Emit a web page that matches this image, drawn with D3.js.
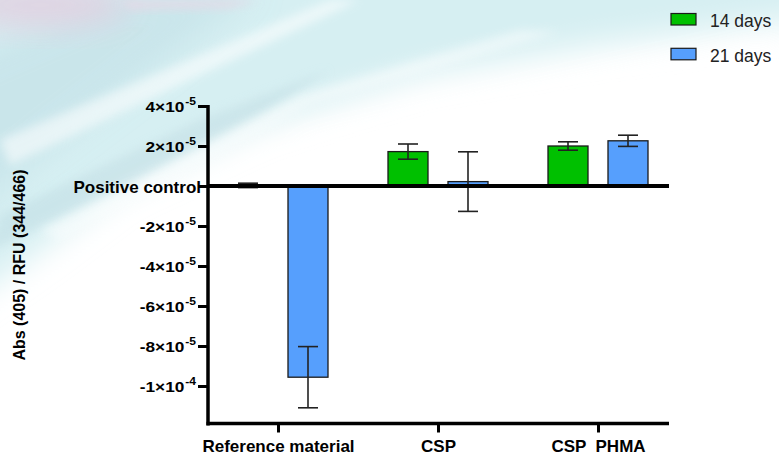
<!DOCTYPE html>
<html>
<head>
<meta charset="utf-8">
<script src="https://cdn.jsdelivr.net/npm/d3@7"></script>
<style>
  html, body { margin: 0; padding: 0; background: #fff; }
  svg { display: block; font-family: "Liberation Sans", Arial, sans-serif; }
</style>
</head>
<body>
<svg id="chart" width="779" height="455"></svg>
<script>
// ---- data ----
const categories = ["Reference material", "CSP", "CSP  PHMA"];
const seriesNames = ["14 days", "21 days"];
const seriesColors = ["#00c000", "#569ffd"];
const values14 = [0.03e-5, 1.72e-5, 2.0e-5];
const errors14 = [0.11e-5, 0.38e-5, 0.21e-5];
const values21 = [-9.56e-5, 0.22e-5, 2.26e-5];
const errors21 = [1.53e-5, 1.49e-5, 0.28e-5];
const yTickValues = [4e-5, 2e-5, 0, -2e-5, -4e-5, -6e-5, -8e-5, -1e-4];
const yTickMain = ["4×10", "2×10", "Positive control", "-2×10", "-4×10", "-6×10", "-8×10", "-1×10"];
const yTickSup = ["-5", "-5", "", "-5", "-5", "-5", "-5", "-4"];
const yTitle = "Abs (405) / RFU (344/466)";

const svg = d3.select("#chart");
const W = 779, H = 455;

// ---- background wash ----
const defs = svg.append("defs");
defs.append("filter").attr("id", "blurBig").attr("x", "-50%").attr("y", "-50%").attr("width", "200%").attr("height", "200%")
  .append("feGaussianBlur").attr("stdDeviation", 16);
defs.append("filter").attr("id", "blurSmall").attr("x", "-50%").attr("y", "-50%").attr("width", "200%").attr("height", "200%")
  .append("feGaussianBlur").attr("stdDeviation", 5);

svg.append("rect").attr("width", W).attr("height", H).attr("fill", "#fff");
const bg = svg.append("g");
bg.append("polygon").attr("filter", "url(#blurBig)").attr("fill", "#d6eff2")
  .attr("points", "-60,-60 840,-60 840,15 600,45 420,75 260,125 120,190 40,250 -60,320");
bg.append("polygon").attr("filter", "url(#blurBig)").attr("fill", "#c6e3e9").attr("opacity", 0.8)
  .attr("points", "-40,60 120,-10 260,-10 60,140 -40,220");
bg.append("polygon").attr("filter", "url(#blurSmall)").attr("fill", "#c3dfe5").attr("opacity", 0.6)
  .attr("points", "-10,250 0,215 200,120 330,70 260,115 120,190");
bg.append("polygon").attr("filter", "url(#blurSmall)").attr("fill", "#ffffff").attr("opacity", 0.55)
  .attr("points", "0,140 330,0 360,0 10,165");
bg.append("polygon").attr("filter", "url(#blurSmall)").attr("fill", "#ffffff").attr("opacity", 0.45)
  .attr("points", "40,230 300,95 520,30 560,32 310,105 60,240");
bg.append("ellipse").attr("filter", "url(#blurBig)").attr("fill", "#e2cfe0").attr("opacity", 0.9)
  .attr("cx", 40).attr("cy", 5).attr("rx", 90).attr("ry", 22);
bg.append("polygon").attr("filter", "url(#blurSmall)").attr("fill", "#e6d8e6").attr("opacity", 0.8)
  .attr("points", "120,0 260,0 230,8 130,10");
bg.append("polygon").attr("filter", "url(#blurBig)").attr("fill", "#ffffff").attr("opacity", 0.9)
  .attr("points", "300,150 780,40 780,455 300,455");

// ---- scales ----
const y = d3.scaleLinear().domain([-1.19e-4, 4e-5]).range([424, 106]);
const x = d3.scalePoint().domain(categories).range([278, 598]);
const xs = d3.scaleBand().domain(seriesNames).range([-50, 50]).paddingInner(1 / 3);

const xLeft = 208, xRight = 669;

// ---- bars ----
const data = [];
categories.forEach((c, i) => {
  data.push({ cat: c, s: seriesNames[0], v: values14[i], e: errors14[i], color: seriesColors[0] });
  data.push({ cat: c, s: seriesNames[1], v: values21[i], e: errors21[i], color: seriesColors[1] });
});

const plot = svg.append("g");
plot.selectAll("rect.bar").data(data).join("rect")
  .attr("class", "bar")
  .attr("x", d => x(d.cat) + xs(d.s))
  .attr("width", xs.bandwidth())
  .attr("y", d => Math.min(y(0), y(d.v)))
  .attr("height", d => Math.abs(y(d.v) - y(0)))
  .attr("fill", d => d.color)
  .attr("stroke", "#1a1a1a")
  .attr("stroke-width", 1.3);

// error bars
const eb = plot.selectAll("g.err").data(data).join("g").attr("class", "err")
  .attr("stroke", "#222").attr("stroke-width", 1.6);
const cx = d => x(d.cat) + xs(d.s) + xs.bandwidth() / 2;
eb.append("line").attr("x1", cx).attr("x2", cx)
  .attr("y1", d => y(d.v + d.e)).attr("y2", d => y(d.v - d.e));
eb.append("line").attr("x1", d => cx(d) - 10).attr("x2", d => cx(d) + 10)
  .attr("y1", d => y(d.v + d.e)).attr("y2", d => y(d.v + d.e));
eb.append("line").attr("x1", d => cx(d) - 10).attr("x2", d => cx(d) + 10)
  .attr("y1", d => y(d.v - d.e)).attr("y2", d => y(d.v - d.e));

// zero line
svg.append("line").attr("x1", xLeft).attr("x2", xRight)
  .attr("y1", y(0)).attr("y2", y(0)).attr("stroke", "#000").attr("stroke-width", 4);

// ---- y axis ----
const stretch = 1.15;
const yAxis = d3.axisLeft(y).tickValues(yTickValues).tickSize(10).tickSizeOuter(0).tickPadding(3);
const gy = svg.append("g").attr("transform", `translate(${xLeft},0)`).call(yAxis);
gy.select(".domain").attr("stroke", "#000").attr("stroke-width", 3.5).attr("d", `M0,${y.range()[1] - 1}V${y.range()[0] + 1.5}`);
gy.selectAll(".tick line").attr("stroke", "#000").attr("stroke-width", 3);
gy.selectAll(".tick text").each(function (d, i) {
  const t = d3.select(this);
  t.text(null).attr("fill", "#000").attr("font-weight", "bold")
    .attr("font-family", "'Liberation Sans', Arial, sans-serif");
  if (yTickSup[i]) {
    t.attr("font-size", 15).attr("x", -12 / stretch).attr("dy", "0.36em")
      .attr("transform", `scale(${stretch},1)`);
    t.append("tspan").text(yTickMain[i]);
    t.append("tspan").attr("dy", -6.5).attr("dx", 0.8).attr("font-size", 10.5).text(yTickSup[i]);
  } else {
    t.attr("font-size", 17).attr("x", -7).attr("dy", "0.4em");
    t.append("tspan").text(yTickMain[i]);
  }
});

// ---- x axis ----
const xAxis = d3.axisBottom(x).tickSize(9).tickSizeOuter(0).tickPadding(7);
const gx = svg.append("g").attr("transform", `translate(0,${y(y.domain()[0]) - 0.5})`).call(xAxis);
gx.select(".domain").attr("stroke", "#000").attr("stroke-width", 3.5).attr("d", `M${xLeft - 1.5},0H${xRight}`);
gx.selectAll(".tick line").attr("stroke", "#000").attr("stroke-width", 3);
gx.selectAll(".tick text").attr("fill", "#000").attr("font-weight", "bold").attr("font-size", 17)
  .attr("font-family", "'Liberation Sans', Arial, sans-serif").style("white-space", "pre");

// ---- y title ----
svg.append("text")
  .attr("transform", `translate(25,${(y.range()[0] + y.range()[1]) / 2}) rotate(-90)`)
  .attr("text-anchor", "middle")
  .attr("font-weight", "bold").attr("font-size", 16).attr("fill", "#000")
  .text(yTitle);

// ---- legend ----
const lg = svg.append("g").selectAll("g").data(seriesNames).join("g")
  .attr("transform", (d, i) => `translate(671,${13.5 + i * 34.8})`);
lg.append("rect").attr("width", 25).attr("height", 11.5)
  .attr("fill", (d, i) => seriesColors[i]).attr("stroke", "#1a1a1a").attr("stroke-width", 1.2);
lg.append("text").attr("x", 39).attr("y", 13.3).attr("font-size", 17.5).attr("fill", "#222").text(d => d);
</script>
</body>
</html>
